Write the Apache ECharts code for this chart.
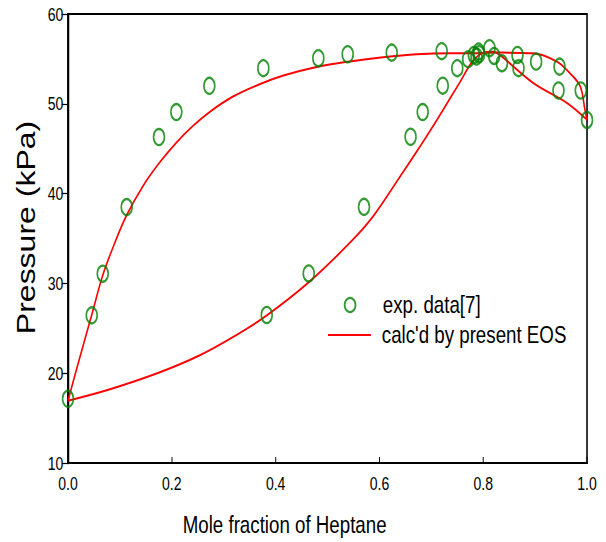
<!DOCTYPE html>
<html>
<head>
<meta charset="utf-8">
<script src="https://cdn.jsdelivr.net/npm/echarts@6/dist/echarts.min.js"></script>
<style>
html,body{margin:0;padding:0;background:#fff;overflow:hidden;}
#wrap{width:606px;height:542px;overflow:hidden;position:relative;}
#c{width:777px;height:542px;transform:scaleX(0.78);transform-origin:0 0;position:absolute;left:0;top:0;}
</style>
</head>
<body>
<div id="wrap"><div id="c"></div></div>
<script>
// Experimental data [x (mole fraction heptane), P (kPa)]
const expX = [0.0, 0.0457, 0.0669, 0.1131, 0.1753, 0.2087, 0.2723, 0.3763, 0.4823, 0.5389, 0.6237, 0.720,
  0.722, 0.6834, 0.660, 0.5703, 0.4638, 0.3829,
  0.750, 0.771, 0.782, 0.791, 0.792, 0.787, 0.812, 0.821, 0.836, 0.866, 0.868, 0.902, 0.947, 0.945, 0.988, 1.0];
const expP = [17.15, 26.44, 31.08, 38.5, 46.3, 49.08, 52.0, 53.97, 55.08, 55.52, 55.70, 55.86,
  52.02, 49.08, 46.33, 38.52, 31.11, 26.48,
  53.97, 54.97, 55.44, 55.81, 55.52, 55.26, 56.19, 55.33, 54.52, 55.44, 53.97, 54.70, 54.14, 51.48, 51.48, 48.2];

// Calculated curve, upper branch
const calcUpX = [0.0, 0.022, 0.0457, 0.0669, 0.09, 0.113, 0.145, 0.177, 0.209, 0.24, 0.274, 0.318, 0.370, 0.415, 0.479, 0.543, 0.607, 0.672, 0.736, 0.768, 0.832, 0.896, 0.942, 0.967, 0.987, 0.996, 1.0];
const calcUpP = [16.94, 21.6, 26.5, 30.9, 34.5, 37.6, 40.9, 43.5, 45.7, 47.5, 49.14, 50.81, 52.2, 53.15, 54.1, 54.72, 55.19, 55.52, 55.63, 55.63, 55.70, 55.63, 54.70, 53.41, 51.92, 49.33, 48.22];

// Calculated curve, lower branch
const calcLoX = [0.0, 0.081, 0.177, 0.254, 0.32, 0.383, 0.463, 0.543, 0.588, 0.640, 0.680, 0.700, 0.723, 0.755, 0.778, 0.800, 0.819, 0.832, 0.896, 0.961, 1.0];
const calcLoP = [16.94, 18.22, 20.11, 22.0, 24.1, 26.44, 30.08, 34.52, 37.48, 41.92, 45.4, 47.2, 49.35, 52.4, 54.6, 55.7, 55.81, 55.44, 52.33, 50.11, 48.22];

const xTicks = [0.0, 0.2, 0.4, 0.6, 0.8, 1.0];
const yTicks = [10, 20, 30, 40, 50, 60];

const zip = (a, b) => a.map((v, i) => [v, b[i]]);
const SANS = '"Liberation Sans", Arial, Helvetica, sans-serif';

const chart = echarts.init(document.getElementById('c'), null, {renderer: 'svg', width: 777, height: 542});
chart.setOption({
  animation: false,
  backgroundColor: '#fff',
  grid: {left: 87.2, top: 14, right: 24.4, bottom: 78, show: true, borderColor: '#000', borderWidth: 2},
  xAxis: {
    type: 'value', min: xTicks[0], max: xTicks[xTicks.length - 1], interval: 0.2,
    name: 'Mole fraction of Heptane', nameLocation: 'middle', nameGap: 50,
    nameTextStyle: {fontFamily: SANS, fontSize: 24, color: '#000', padding: [0, 110, 0, 0]},
    axisLine: {lineStyle: {color: '#000', width: 2}},
    axisTick: {inside: true, length: 6, lineStyle: {color: '#000', width: 1.2}},
    axisLabel: {fontFamily: SANS, fontSize: 18, color: '#000', margin: 11, formatter: v => v.toFixed(1)},
    splitLine: {show: false}
  },
  yAxis: {
    type: 'value', min: yTicks[0], max: yTicks[yTicks.length - 1], interval: 10,
    name: 'Pressure (kPa)', nameLocation: 'middle', nameGap: 34,
    nameTextStyle: {fontFamily: SANS, fontSize: 32, color: '#000', padding: [0, 0, 0, 22]},
    axisLine: {lineStyle: {color: '#000', width: 2.6}},
    axisTick: {inside: false, length: 8, lineStyle: {color: '#000', width: 1.2}},
    axisLabel: {fontFamily: SANS, fontSize: 18, color: '#000', margin: 6},
    splitLine: {show: false}
  },
  legend: [
    {
      data: [{name: 'exp. data[7]', icon: 'circle'}],
      left: 440.7, top: 293, padding: 0, itemWidth: 14, itemHeight: 16,
      itemStyle: {color: 'transparent', borderColor: '#008000', borderWidth: 2.2},
      textStyle: {fontFamily: SANS, fontSize: 24, color: '#000', padding: [0, 0, 0, 30]}
    },
    {
      data: [{name: "calc'd by present EOS", icon: 'rect'}],
      left: 420.5, top: 323, padding: 0, itemWidth: 55, itemHeight: 2,
      itemStyle: {color: '#ff0000'},
      textStyle: {fontFamily: SANS, fontSize: 24, color: '#000', padding: [0, 0, 0, 9]}
    }
  ],
  series: [
    {
      name: "calc'd by present EOS", type: 'line', data: zip(calcUpX, calcUpP),
      showSymbol: false, symbol: 'none', smooth: 0.35, lineStyle: {color: '#ff0000', width: 2}, itemStyle: {color: '#ff0000'}, z: 2
    },
    {
      name: "calc'd by present EOS", type: 'line', data: zip(calcLoX, calcLoP),
      showSymbol: false, symbol: 'none', smooth: 0.35, lineStyle: {color: '#ff0000', width: 2}, itemStyle: {color: '#ff0000'}, z: 2
    },
    {
      name: 'exp. data[7]', type: 'scatter', data: zip(expX, expP),
      symbol: 'circle', symbolSize: [14, 16],
      itemStyle: {color: 'transparent', borderColor: '#008000', borderWidth: 2.2}, z: 3
    }
  ]
});
</script>
</body>
</html>
